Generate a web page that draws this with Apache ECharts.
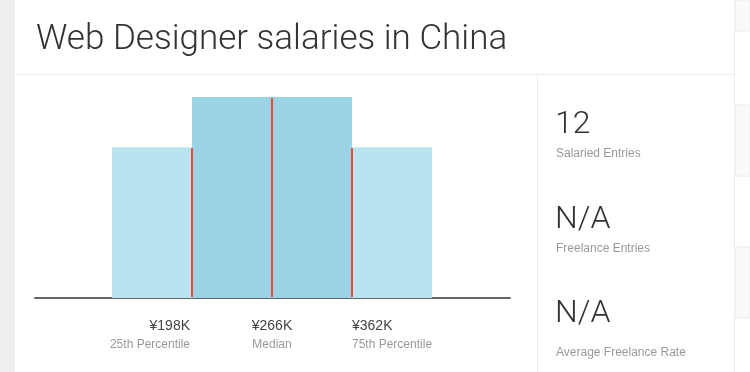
<!DOCTYPE html>
<html>
<head>
<meta charset="utf-8">
<style>
  html, body { margin: 0; padding: 0; background: #ffffff; }
  #chart { width: 750px; height: 372px; }
</style>
<script src="https://cdn.jsdelivr.net/npm/echarts@6/dist/echarts.min.js"></script>
</head>
<body>
<div id="chart"></div>
<script>
// ---- data ----
const chartTitle = 'Web Designer salaries in China';
const binIndex = [0, 1, 2, 3];
const binCounts = [3, 4, 4, 3];
const binShade = ['light', 'dark', 'dark', 'light'];
const percentilePos = [1, 2, 3];
const percentileValues = ['¥198K', '¥266K', '¥362K'];
const percentileNames = ['25th Percentile', 'Median', '75th Percentile'];
const statValues = ['12', 'N/A', 'N/A'];
const statNames = ['Salaried Entries', 'Freelance Entries', 'Average Freelance Rate'];

// ---- build ----
const barData = binIndex.map((b, i) => [b, binCounts[i], binShade[i]]);
const pctData = percentilePos.map((p, i) => [
  p,
  Math.min(binCounts[p - 1], binCounts[p]),
  percentileValues[i],
  percentileNames[i]
]);

const thinFont = 'Roboto, "Open Sans", sans-serif';
const labelFont = '"Liberation Sans", Arial, sans-serif';

const graphics = [
  { type: 'rect', shape: { x: 0, y: 0, width: 15, height: 372 }, style: { fill: '#efefef' }, silent: true, z: -10 },
  { type: 'rect', shape: { x: 735, y: 0, width: 15, height: 31 }, style: { fill: '#f9f9f9', stroke: '#ececec', lineWidth: 1 }, silent: true, z: -10 },
  { type: 'rect', shape: { x: 735, y: 105, width: 15, height: 71 }, style: { fill: '#f9f9f9', stroke: '#ececec', lineWidth: 1 }, silent: true, z: -10 },
  { type: 'rect', shape: { x: 735, y: 247, width: 15, height: 71 }, style: { fill: '#f9f9f9', stroke: '#ececec', lineWidth: 1 }, silent: true, z: -10 },
  { type: 'line', shape: { x1: 734.5, y1: 0, x2: 734.5, y2: 372 }, style: { stroke: '#ececec', lineWidth: 1 }, silent: true },
  { type: 'line', shape: { x1: 15, y1: 74.5, x2: 734, y2: 74.5 }, style: { stroke: '#ececec', lineWidth: 1 }, silent: true },
  { type: 'line', shape: { x1: 537.5, y1: 75, x2: 537.5, y2: 372 }, style: { stroke: '#ececec', lineWidth: 1 }, silent: true }
];
const statValueY = [125, 220, 314];
const statNameY = [154, 249, 353];
statValues.forEach((v, i) => {
  graphics.push({
    type: 'text', silent: true,
    style: { x: 555, y: statValueY[i], text: v, fill: '#333', font: '300 32px ' + thinFont, textVerticalAlign: 'middle' }
  });
  graphics.push({
    type: 'text', silent: true,
    style: { x: 556, y: statNameY[i], text: statNames[i], fill: '#999', font: '12px ' + labelFont, textVerticalAlign: 'middle' }
  });
});

const option = {
  animation: false,
  backgroundColor: '#ffffff',
  title: {
    text: chartTitle,
    left: 31,
    top: 18,
    textStyle: { fontFamily: thinFont, fontWeight: 300, fontSize: 35, color: '#333' }
  },
  grid: { left: 35, right: 240, top: 97, bottom: 74 },
  xAxis: {
    type: 'value', min: -0.9625, max: 4.975,
    splitLine: { show: false }, axisTick: { show: false }, axisLabel: { show: false },
    axisLine: { show: true, lineStyle: { color: '#666', width: 2 } }
  },
  yAxis: {
    type: 'value', min: 0, max: 4, show: false
  },
  graphic: graphics,
  series: [
    {
      type: 'custom',
      data: barData,
      z: 1,
      renderItem: function (params, api) {
        const x0 = api.value(0);
        const h = api.value(1);
        const p0 = api.coord([x0, 0]);
        const p1 = api.coord([x0 + 1, h]);
        const shade = barData[params.dataIndex][2];
        return {
          type: 'rect',
          shape: { x: p0[0], y: p1[1], width: p1[0] - p0[0], height: p0[1] - p1[1] },
          style: { fill: shade === 'dark' ? '#9bd4e6' : '#bae3f0' }
        };
      }
    },
    {
      type: 'custom',
      data: pctData,
      z: 5,
      renderItem: function (params, api) {
        const xv = api.value(0);
        const h = api.value(1);
        const base = api.coord([xv, 0]);
        const top = api.coord([xv, h]);
        const i = params.dataIndex;
        const align = i === 0 ? 'right' : (i === 1 ? 'center' : 'left');
        const tx = i === 0 ? base[0] - 2 : base[0];
        return {
          type: 'group',
          children: [
            {
              type: 'line',
              shape: { x1: base[0], y1: base[1] - 1, x2: base[0], y2: top[1] + 1 },
              style: { stroke: '#e84a2e', lineWidth: 2 }
            },
            {
              type: 'text',
              style: { x: tx, y: base[1] + 28, text: pctData[i][2], fill: '#444', font: '14px ' + labelFont, textAlign: align, textVerticalAlign: 'middle' }
            },
            {
              type: 'text',
              style: { x: tx, y: base[1] + 47, text: pctData[i][3], fill: '#999', font: '12px ' + labelFont, textAlign: align, textVerticalAlign: 'middle' }
            }
          ]
        };
      }
    }
  ]
};

const chart = echarts.init(document.getElementById('chart'), null, { renderer: 'canvas' });
chart.setOption(option);
</script>
</body>
</html>
